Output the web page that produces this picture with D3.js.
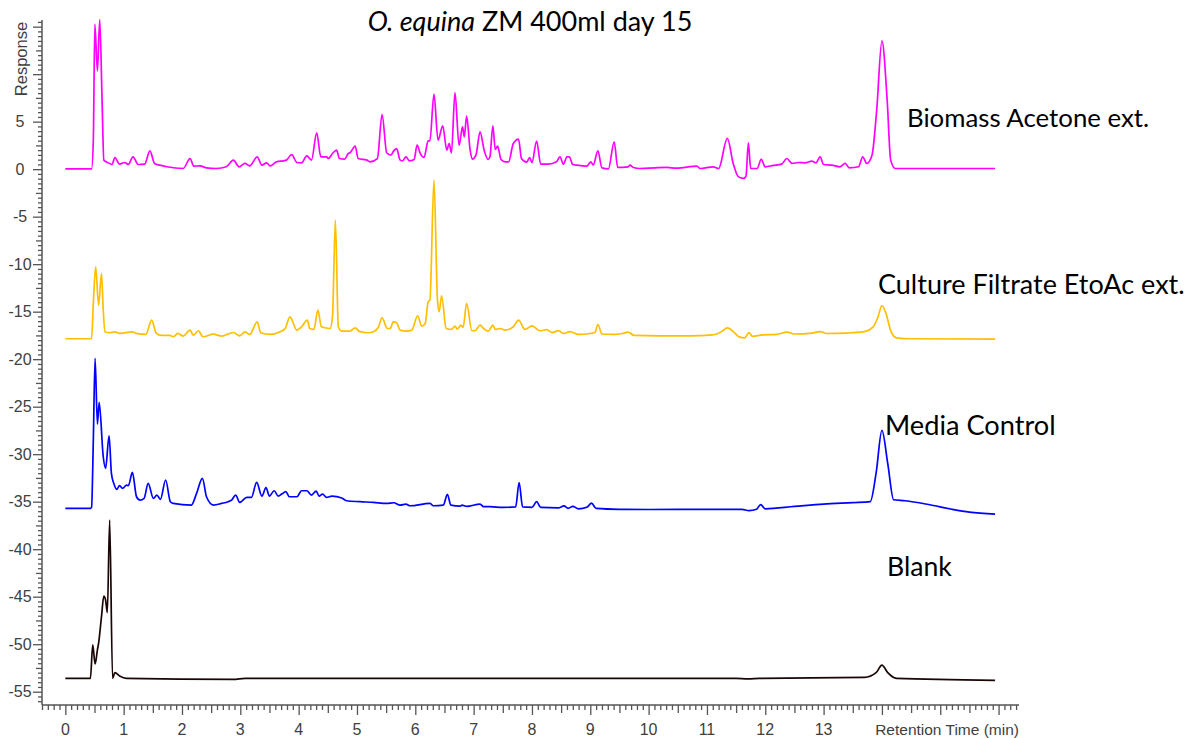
<!DOCTYPE html>
<html>
<head>
<meta charset="utf-8">
<script src="https://cdn.jsdelivr.net/npm/d3@7"></script>
<style>
  html, body { margin: 0; padding: 0; background: #ffffff; }
  svg { display: block; }
</style>
</head>
<body>
<svg id="chart" width="1197" height="738"></svg>
<script>
// Chromatogram traces: [retention time (min), response]
const biomassTrace = [
  [0,0.03],[0.45,0.03],[0.48,3.05],[0.506,15.26],[0.55,10.35],[0.59,15.75],[0.63,7.26],[0.66,0.95],
  [0.76,0.6],[0.80,0.49],[0.85,1.23],[0.93,0.53],[1.02,0.7],[1.08,0.49],[1.16,1.3],[1.25,0.49],
  [1.36,0.53],[1.45,1.93],[1.53,0.6],[1.62,0.42],[1.74,0.25],[2.02,0.07],[2.14,1.12],[2.20,0.32],
  [2.31,0.35],[2.42,0.14],[2.59,0.07],[2.76,0.25],[2.88,0.95],[2.98,0.25],[3.08,0.6],[3.16,0.35],
  [3.29,1.3],[3.37,0.42],[3.45,0.67],[3.51,0.35],[3.62,0.77],[3.74,0.88],[3.79,0.95],[3.88,1.54],
  [3.97,0.7],[4.05,0.67],[4.14,1.4],[4.22,0.95],[4.31,3.82],[4.38,1.3],[4.48,1.3],[4.51,1.12],
  [4.58,1.65],[4.65,2.0],[4.70,1.12],[4.79,1.05],[4.85,1.65],[4.88,1.72],[4.97,2.42],[5.02,1.12],
  [5.17,0.95],[5.22,0.77],[5.35,1.12],[5.43,5.75],[5.51,1.72],[5.58,1.47],[5.63,1.93],[5.68,2.17],
  [5.74,0.95],[5.78,0.88],[5.84,1.3],[5.90,0.88],[5.98,1.02],[6.03,2.52],[6.09,1.58],[6.15,1.23],
  [6.22,2.98],[6.25,2.98],[6.32,7.89],[6.39,3.05],[6.47,4.56],[6.54,2.0],[6.58,2.7],[6.62,1.72],
  [6.68,8.07],[6.75,2.52],[6.81,4.45],[6.84,3.4],[6.88,5.58],[6.94,2.0],[6.98,1.05],[7.04,1.47],
  [7.11,3.93],[7.18,2.0],[7.25,1.02],[7.28,1.3],[7.33,4.56],[7.37,2.07],[7.41,2.42],[7.47,1.02],
  [7.54,0.77],[7.60,0.77],[7.68,2.7],[7.77,3.16],[7.82,1.12],[7.91,0.74],[7.96,1.23],[8.0,0.7],
  [8.08,2.95],[8.15,0.53],[8.28,0.53],[8.42,0.77],[8.48,1.3],[8.54,0.53],[8.60,1.3],[8.64,1.3],
  [8.70,0.49],[8.77,0.42],[8.94,0.32],[9.01,0.77],[9.05,0.42],[9.13,1.93],[9.20,0.14],[9.31,0.04],
  [9.41,2.88],[9.47,0.18],[9.65,0.25],[9.68,0.42],[9.74,0.18],[9.85,0.07],[10.11,0.14],[10.31,0.18],
  [10.48,0.1],[10.83,0.32],[10.88,0.07],[11.11,0.25],[11.20,0.07],[11.35,3.23],[11.45,0.6],[11.54,-0.81],
  [11.63,-0.98],[11.67,-0.74],[11.71,2.77],[11.75,0.07],[11.86,0.07],[11.93,1.02],[12.0,0.25],[12.14,0.39],
  [12.28,0.53],[12.37,1.12],[12.46,0.6],[12.57,0.7],[12.68,0.67],[12.8,0.84],[12.87,0.67],[12.94,1.3],
  [13.0,0.49],[13.14,0.42],[13.28,0.25],[13.37,0.6],[13.44,0.14],[13.6,0.25],[13.67,1.3],[13.74,0.6],
  [13.83,1.47],[13.91,6.2],[14.0,13.5],[14.09,7.26],[14.15,0.95],[14.23,0.07],[15.94,0.07]
];

const filtrateTrace = [
  [0,-17.85],[0.45,-17.85],[0.48,-14.13],[0.52,-10.28],[0.57,-14.31],[0.62,-10.98],[0.65,-14.84],[0.68,-17.12],
  [0.76,-17.22],[0.85,-17.12],[0.93,-17.29],[1.15,-17.12],[1.22,-17.29],[1.38,-17.4],[1.48,-15.89],[1.56,-17.29],
  [1.65,-17.5],[1.79,-17.5],[1.85,-17.64],[1.93,-17.29],[2.02,-17.57],[2.14,-16.94],[2.19,-17.47],[2.28,-17.01],
  [2.36,-17.64],[2.54,-17.36],[2.68,-17.57],[2.88,-17.19],[2.99,-17.54],[3.08,-17.12],[3.16,-17.4],[3.29,-16.07],
  [3.35,-17.22],[3.51,-17.4],[3.68,-17.12],[3.77,-16.77],[3.85,-15.54],[3.97,-16.94],[4.05,-16.59],[4.15,-15.89],
  [4.19,-16.77],[4.26,-16.87],[4.33,-14.84],[4.39,-16.59],[4.54,-16.77],[4.58,-15.54],[4.63,-5.37],[4.68,-16.59],
  [4.74,-17.05],[4.88,-17.05],[4.97,-16.7],[5.04,-17.08],[5.19,-17.22],[5.28,-17.12],[5.37,-16.59],[5.43,-15.64],
  [5.52,-16.77],[5.57,-16.77],[5.62,-16.07],[5.68,-16.17],[5.74,-16.94],[5.85,-17.05],[5.94,-16.94],[6.04,-15.43],
  [6.11,-16.52],[6.17,-16.24],[6.22,-13.96],[6.25,-13.78],[6.32,-1.16],[6.38,-13.78],[6.41,-15.01],[6.45,-13.33],
  [6.53,-16.77],[6.62,-16.87],[6.68,-16.52],[6.72,-16.84],[6.78,-16.42],[6.82,-16.66],[6.88,-14.13],[6.97,-17.01],
  [7.02,-17.01],[7.11,-16.42],[7.17,-16.77],[7.25,-17.05],[7.33,-16.42],[7.37,-16.87],[7.45,-16.77],[7.54,-16.94],
  [7.68,-16.59],[7.77,-15.89],[7.88,-16.87],[8.0,-16.49],[8.14,-17.01],[8.25,-16.9],[8.35,-17.2],[8.45,-17.0],
  [8.55,-17.3],[8.65,-17.1],[8.8,-17.4],[9.0,-17.3],[9.08,-17.2],[9.13,-16.35],[9.2,-17.35],[9.4,-17.4],
  [9.55,-17.3],[9.65,-17.15],[9.75,-17.5],[10.2,-17.55],[10.7,-17.55],[11.1,-17.45],[11.25,-17.1],[11.35,-16.7],
  [11.47,-17.2],[11.55,-17.65],[11.65,-17.75],[11.72,-17.2],[11.78,-17.6],[11.95,-17.45],[12.2,-17.4],[12.37,-17.15],
  [12.5,-17.35],[12.8,-17.25],[12.94,-17.1],[13.05,-17.3],[13.4,-17.25],[13.7,-17.1],[13.85,-16.6],[13.93,-15.6],
  [14.0,-14.35],[14.07,-15.2],[14.15,-17.0],[14.25,-17.75],[14.5,-17.85],[15.94,-17.9]
];

const mediaTrace = [
  [0,-35.7],[0.43,-35.7],[0.45,-35.6],[0.48,-28.5],[0.51,-19.9],[0.55,-26.83],[0.58,-24.55],[0.65,-30.27],
  [0.69,-31.5],[0.75,-28.06],[0.79,-32.02],[0.83,-33.07],[0.88,-33.7],[0.93,-33.32],[0.98,-33.6],[1.05,-33.25],
  [1.08,-33.32],[1.15,-31.92],[1.22,-34.48],[1.28,-34.83],[1.35,-34.65],[1.42,-33.07],[1.51,-34.65],[1.57,-34.3],
  [1.63,-34.76],[1.72,-32.72],[1.80,-35.0],[1.85,-35.18],[2.16,-35.36],[2.25,-34.13],[2.35,-32.55],[2.42,-34.48],
  [2.54,-35.36],[2.68,-35.18],[2.79,-35.0],[2.85,-34.83],[2.92,-34.3],[2.99,-35.07],[3.11,-34.55],[3.19,-34.55],
  [3.28,-32.97],[3.37,-34.41],[3.44,-33.53],[3.50,-34.41],[3.58,-33.85],[3.65,-34.41],[3.71,-34.2],[3.78,-33.95],
  [3.84,-34.48],[3.97,-34.48],[4.05,-33.85],[4.14,-33.85],[4.22,-34.3],[4.30,-33.88],[4.35,-34.41],[4.41,-34.2],
  [4.48,-34.55],[4.57,-34.41],[4.74,-34.62],[4.82,-34.9],[5.05,-35.0],[5.28,-35.07],[5.51,-35.18],[5.63,-35.11],
  [5.74,-35.36],[5.84,-35.25],[5.91,-35.43],[6.25,-35.18],[6.31,-35.43],[6.48,-35.36],[6.55,-34.23],[6.61,-35.36],
  [6.77,-35.46],[6.80,-35.36],[6.88,-35.5],[7.11,-35.25],[7.17,-35.53],[7.28,-35.53],[7.5,-35.6],[7.72,-35.55],
  [7.78,-33.0],[7.84,-35.55],[8.0,-35.6],[8.08,-35.0],[8.15,-35.6],[8.45,-35.65],[8.55,-35.45],[8.62,-35.7],
  [8.7,-35.5],[8.8,-35.75],[8.95,-35.55],[9.02,-35.15],[9.1,-35.7],[9.5,-35.8],[10.0,-35.82],[11.0,-35.8],
  [11.6,-35.8],[11.72,-35.95],[11.85,-35.8],[11.92,-35.3],[12.0,-35.75],[12.5,-35.5],[13.0,-35.25],[13.5,-35.1],
  [13.8,-35.0],[13.9,-32.0],[14.0,-27.5],[14.1,-31.0],[14.2,-34.8],[14.4,-34.9],[14.8,-35.3],[15.2,-35.8],
  [15.5,-36.1],[15.94,-36.3]
];

const blankTrace = [
  [0,-53.59],[0.43,-53.59],[0.47,-50.08],[0.51,-52.08],[0.55,-50.6],[0.57,-49.91],[0.62,-47.1],[0.66,-44.93],
  [0.69,-45.35],[0.72,-46.68],[0.76,-36.93],[0.81,-53.59],[0.85,-52.99],[0.93,-53.34],[1.05,-53.59],[2.88,-53.7],
  [3.08,-53.59],[11.5,-53.6],[11.7,-53.65],[11.9,-53.6],[13.7,-53.5],[13.9,-53.0],[14.0,-52.2],[14.1,-53.0],
  [14.25,-53.6],[15.94,-53.8]
];

const traceNames = ["Biomass Acetone ext.", "Culture Filtrate EtoAc ext.", "Media Control", "Blank"];
const traceColors = ["#ff00ff", "#ffbf00", "#0000ff", "#1a0505"];
const xTickLabels = [0, 1, 2, 3, 4, 5, 6, 7, 8, 9, 10, 11, 12, 13];
const yTickLabels = [5, 0, -5, -10, -15, -20, -25, -30, -35, -40, -45, -50, -55];
const xAxisTitle = "Retention Time (min)";
const yAxisTitle = "Response";
const titleItalic = "O. equina";
const titleRest = " ZM 400ml day 15";

(function draw() {
  const svg = d3.select("#chart");
  const pLeft = 42, pRight = 1019, pTop = 20, pBottom = 705;

  const x = d3.scaleLinear().domain([-0.4, 16.35]).range([pLeft, pRight]);
  const y = d3.scaleLinear().domain([15.7, -56.4]).range([pTop, pBottom]);

  const axisColor = "#555555";
  const labelColor = "#404040";
  const axisFont = "'Liberation Sans', Arial, sans-serif";
  const textFont = "Lato, 'Open Sans', sans-serif";

  function plainAxis(g) {
    g.selectAll("text").remove();
    g.select(".domain").remove();
    g.selectAll("line").attr("stroke", axisColor).attr("stroke-width", 1.3);
  }

  // Y axis: minor ticks every 0.5, medium at 2.5, major at 5
  const yAll = d3.range(-112, 32).map(i => i / 2);
  const yMinor = yAll.filter(v => Math.abs(v % 2.5) > 1e-9);
  const yMid = yAll.filter(v => Math.abs(v % 2.5) < 1e-9 && Math.abs(v % 5) > 1e-9);
  const yMajor = yAll.filter(v => Math.abs(v % 5) < 1e-9);

  [[yMinor, 4], [yMid, 6], [yMajor, 9]].forEach(([vals, size]) => {
    svg.append("g").attr("transform", `translate(${pLeft},0)`)
      .call(d3.axisLeft(y).tickValues(vals).tickSize(size)).call(plainAxis);
  });

  svg.append("g").selectAll("text").data(yTickLabels).join("text")
    .attr("x", 20).attr("y", d => y(d)).attr("dy", "0.36em")
    .attr("text-anchor", "middle")
    .attr("font-family", axisFont)
    .attr("font-size", 16).attr("fill", labelColor)
    .text(d => d);

  svg.append("text")
    .attr("transform", "translate(27,59) rotate(-90)")
    .attr("text-anchor", "middle")
    .attr("font-family", axisFont)
    .attr("font-size", 16.5).attr("fill", labelColor)
    .text(yAxisTitle);

  // X axis: minor every 0.1, medium at x.5, major at integers
  const xAll = d3.range(-4, 164);
  const xMinor = xAll.filter(i => i % 5 !== 0).map(i => i / 10);
  const xMid = xAll.filter(i => i % 5 === 0 && i % 10 !== 0).map(i => i / 10);
  const xMajor = xAll.filter(i => i % 10 === 0).map(i => i / 10);

  [[xMinor, 5], [xMid, 8], [xMajor, 10]].forEach(([vals, size]) => {
    svg.append("g").attr("transform", `translate(0,${pBottom})`)
      .call(d3.axisBottom(x).tickValues(vals).tickSize(size)).call(plainAxis);
  });

  svg.append("g").selectAll("text").data(xTickLabels).join("text")
    .attr("x", d => x(d)).attr("y", 735)
    .attr("text-anchor", "middle")
    .attr("font-family", axisFont)
    .attr("font-size", 16).attr("fill", labelColor)
    .text(d => d);

  svg.append("text")
    .attr("x", pRight).attr("y", 735)
    .attr("text-anchor", "end")
    .attr("font-family", axisFont)
    .attr("font-size", 15.5).attr("fill", labelColor)
    .text(xAxisTitle);

  svg.append("line").attr("x1", pLeft).attr("x2", pLeft).attr("y1", pTop).attr("y2", pBottom)
    .attr("stroke", axisColor).attr("stroke-width", 1.5);
  svg.append("line").attr("x1", pLeft).attr("x2", pRight).attr("y1", pBottom).attr("y2", pBottom)
    .attr("stroke", axisColor).attr("stroke-width", 1.5);

  // Traces
  const line = d3.line()
    .x(d => x(d[0]))
    .y(d => y(d[1]))
    .curve(d3.curveMonotoneX);

  const traces = [biomassTrace, filtrateTrace, mediaTrace, blankTrace];
  svg.append("g").selectAll("path").data(traces).join("path")
    .attr("d", d => line(d))
    .attr("fill", "none")
    .attr("stroke", (d, i) => traceColors[i])
    .attr("stroke-width", 1.7)
    .attr("stroke-linejoin", "round");

  // Trace names
  const namePos = [[907, 127], [878, 294], [885, 435], [887, 576]];
  const nameSize = [25.8, 27, 27.2, 26.6];
  svg.append("g").selectAll("text").data(traceNames).join("text")
    .attr("x", (d, i) => namePos[i][0])
    .attr("y", (d, i) => namePos[i][1])
    .attr("font-family", textFont)
    .attr("font-size", (d, i) => nameSize[i])
    .attr("fill", "#000")
    .text(d => d);

  // Title
  const title = svg.append("text")
    .attr("x", 530).attr("y", 31)
    .attr("text-anchor", "middle")
    .attr("font-family", textFont)
    .attr("font-size", 27)
    .attr("fill", "#000");
  title.append("tspan").attr("font-style", "italic").text(titleItalic);
  title.append("tspan").text(titleRest);
})();
</script>
</body>
</html>
